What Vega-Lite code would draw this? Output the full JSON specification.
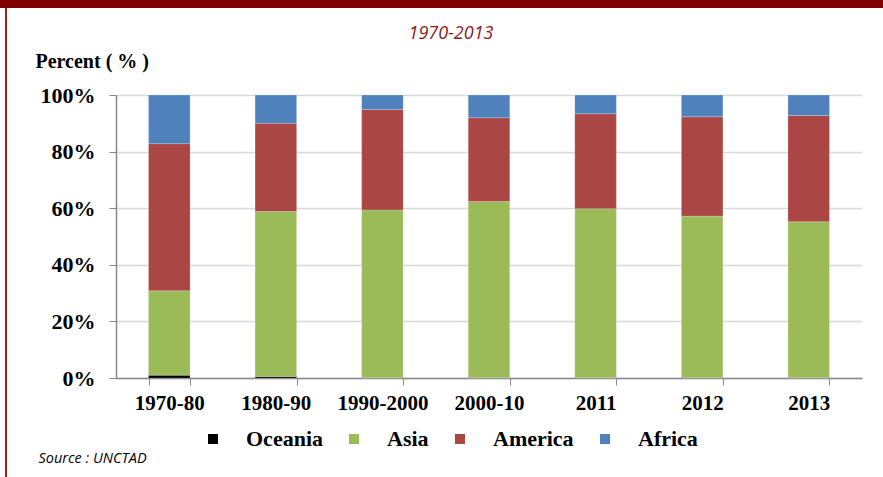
{
  "$schema": "https://vega.github.io/schema/vega-lite/v6.json",
  "width": 746,
  "height": 283,
  "autosize": {"type": "none"},
  "padding": {"left": 116, "top": 95, "right": 21, "bottom": 99},
  "background": "white",
  "config": {"view": {"stroke": null}},
  "title": {
    "text": "1970-2013",
    "frame": "group",
    "anchor": "middle",
    "dx": -38,
    "offset": -43,
    "font": "Open Sans",
    "fontStyle": "italic",
    "fontWeight": "normal",
    "fontSize": 18,
    "color": "#8B1A1A"
  },
  "datasets": {
    "shares": [
      {"period": "1970-80", "region": "Oceania", "rank": 1, "share": 1.0},
      {"period": "1970-80", "region": "Asia", "rank": 2, "share": 29.8},
      {"period": "1970-80", "region": "America", "rank": 3, "share": 52.0},
      {"period": "1970-80", "region": "Africa", "rank": 4, "share": 17.2},
      {"period": "1980-90", "region": "Oceania", "rank": 1, "share": 0.5},
      {"period": "1980-90", "region": "Asia", "rank": 2, "share": 58.3},
      {"period": "1980-90", "region": "America", "rank": 3, "share": 31.2},
      {"period": "1980-90", "region": "Africa", "rank": 4, "share": 10.0},
      {"period": "1990-2000", "region": "Oceania", "rank": 1, "share": 0.1},
      {"period": "1990-2000", "region": "Asia", "rank": 2, "share": 59.3},
      {"period": "1990-2000", "region": "America", "rank": 3, "share": 35.5},
      {"period": "1990-2000", "region": "Africa", "rank": 4, "share": 5.1},
      {"period": "2000-10", "region": "Oceania", "rank": 1, "share": 0.1},
      {"period": "2000-10", "region": "Asia", "rank": 2, "share": 62.3},
      {"period": "2000-10", "region": "America", "rank": 3, "share": 29.6},
      {"period": "2000-10", "region": "Africa", "rank": 4, "share": 8.0},
      {"period": "2011", "region": "Oceania", "rank": 1, "share": 0.1},
      {"period": "2011", "region": "Asia", "rank": 2, "share": 59.7},
      {"period": "2011", "region": "America", "rank": 3, "share": 33.6},
      {"period": "2011", "region": "Africa", "rank": 4, "share": 6.6},
      {"period": "2012", "region": "Oceania", "rank": 1, "share": 0.1},
      {"period": "2012", "region": "Asia", "rank": 2, "share": 57.1},
      {"period": "2012", "region": "America", "rank": 3, "share": 35.1},
      {"period": "2012", "region": "Africa", "rank": 4, "share": 7.7},
      {"period": "2013", "region": "Oceania", "rank": 1, "share": 0.1},
      {"period": "2013", "region": "Asia", "rank": 2, "share": 55.1},
      {"period": "2013", "region": "America", "rank": 3, "share": 37.6},
      {"period": "2013", "region": "Africa", "rank": 4, "share": 7.2}
    ]
  },
  "layer": [
    {
      "data": {"name": "shares"},
      "mark": {"type": "bar", "stroke": "#ffffff", "strokeWidth": 0.4, "strokeOpacity": 0.5},
      "encoding": {
        "x": {
          "field": "period",
          "type": "nominal",
          "sort": null,
          "scale": {"paddingInner": 0.61, "paddingOuter": 0.305},
          "axis": {
            "title": "Source : UNCTAD",
            "titleFont": "Open Sans",
            "titleFontStyle": "italic",
            "titleFontWeight": "normal",
            "titleFontSize": 14.5,
            "titleColor": "#000000",
            "titleAnchor": "start",
            "titleAlign": "left",
            "titleBaseline": "alphabetic",
            "titleX": -78,
            "titleY": 84,
            "labelAngle": 0,
            "labelFont": "Liberation Serif",
            "labelFontWeight": "bold",
            "labelFontSize": 21,
            "labelColor": "#000000",
            "labelPadding": 7,
            "tickBand": "extent",
            "tickSize": 7,
            "tickColor": "#888888",
            "domainColor": "#888888",
            "domainWidth": 1.5
          }
        },
        "y": {
          "field": "share",
          "type": "quantitative",
          "stack": "zero",
          "scale": {"domain": [0, 100], "nice": false},
          "axis": {
            "values": [0, 20, 40, 60, 80, 100],
            "labelExpr": "datum.value + '%'",
            "labelFont": "Liberation Serif",
            "labelFontWeight": "bold",
            "labelFontSize": 22,
            "labelColor": "#000000",
            "labelPadding": 14,
            "tickSize": 7,
            "tickColor": "#888888",
            "domainColor": "#888888",
            "domainWidth": 1.5,
            "gridColor": "#d9d9d9",
            "gridWidth": 1.5,
            "title": "Percent ( % )",
            "titleFont": "Liberation Serif",
            "titleFontWeight": "bold",
            "titleFontSize": 20,
            "titleColor": "#000000",
            "titleAngle": 0,
            "titleAlign": "left",
            "titleBaseline": "alphabetic",
            "titleX": -81,
            "titleY": -28
          }
        },
        "color": {
          "field": "region",
          "type": "nominal",
          "scale": {
            "domain": ["Oceania", "Asia", "America", "Africa"],
            "range": ["#000000", "#9BBB59", "#AA4643", "#4F81BD"]
          },
          "legend": {
            "title": null,
            "orient": "none",
            "direction": "horizontal",
            "legendX": 86,
            "legendY": 333,
            "symbolType": "square",
            "symbolSize": 100,
            "symbolStrokeWidth": 0,
            "labelFont": "Liberation Serif",
            "labelFontWeight": "bold",
            "labelFontSize": 22,
            "labelColor": "#000000",
            "labelOffset": 22,
            "columnPadding": 20
          }
        },
        "order": {"field": "rank", "type": "quantitative"}
      }
    },
    {
      "data": {"values": [{}]},
      "mark": {"type": "rect", "color": "#800000", "clip": false},
      "encoding": {
        "x": {"datum": -0.1555, "type": "quantitative", "scale": {"domain": [0, 1], "nice": false, "zero": false}, "axis": null},
        "x2": {"datum": 1.03},
        "y": {"datum": 133.6, "type": "quantitative"},
        "y2": {"datum": 130.7}
      }
    },
    {
      "data": {"values": [{}]},
      "mark": {"type": "rule", "color": "#9E1F1F", "strokeWidth": 2, "clip": false},
      "encoding": {
        "x": {"datum": -0.1475, "type": "quantitative", "scale": {"domain": [0, 1], "nice": false, "zero": false}, "axis": null},
        "y": {"datum": 130.7, "type": "quantitative"},
        "y2": {"datum": -36}
      }
    }
  ],
  "resolve": {"scale": {"x": "independent"}}
}
